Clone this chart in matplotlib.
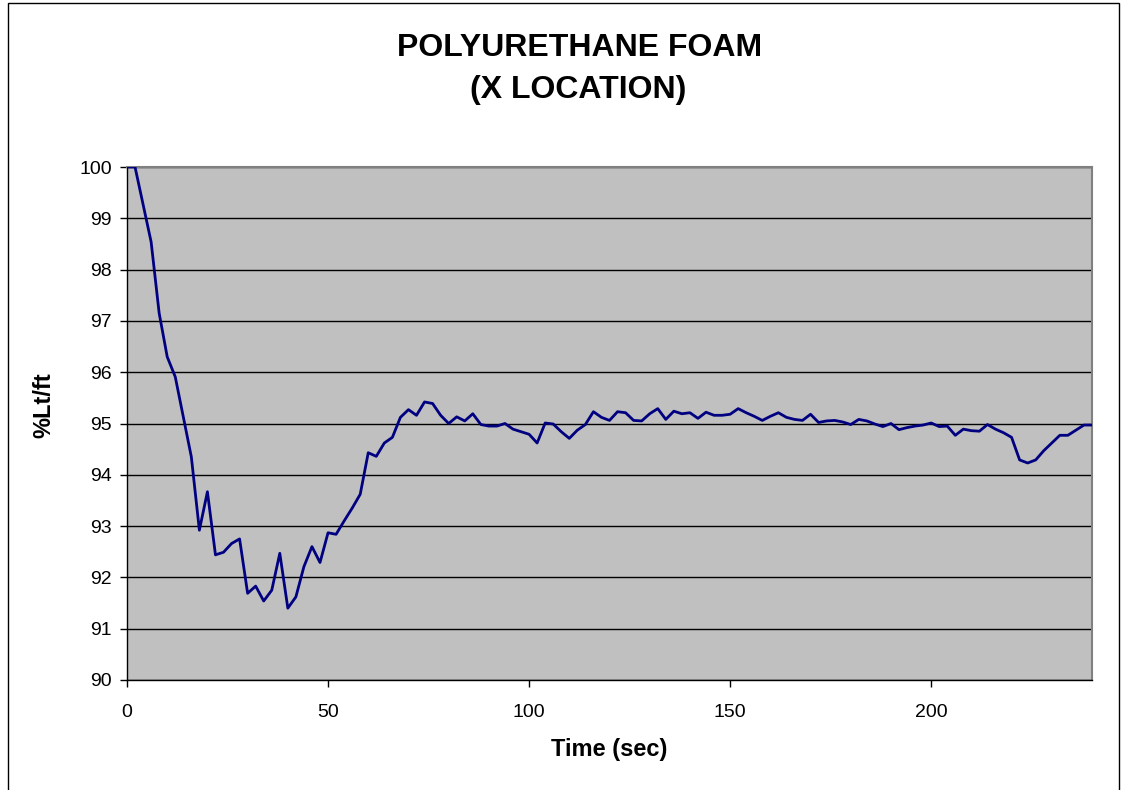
import matplotlib.pyplot as plt
import numpy as np
from matplotlib.patches import Rectangle

plt.rcParams['font.family'] = ['Liberation Sans', 'DejaVu Sans']

# time in seconds, one reading every 2 s
time_sec = np.arange(0, 242, 2)
lt_pct = [
    100.00, 100.00, 99.27, 98.54, 97.15, 96.30, 95.91, 95.13, 94.35, 92.92,
    93.67, 92.44, 92.49, 92.66, 92.75, 91.69, 91.83, 91.54, 91.75, 92.47,
    91.40, 91.62, 92.21, 92.60, 92.29, 92.87, 92.84, 93.10, 93.35, 93.62,
    94.43, 94.36, 94.62, 94.73, 95.12, 95.27, 95.16, 95.42, 95.39, 95.16,
    95.00, 95.13, 95.05, 95.19, 94.98, 94.95, 94.95, 95.00, 94.89, 94.84,
    94.79, 94.62, 95.01, 94.99, 94.84, 94.71, 94.87, 94.98, 95.23, 95.12,
    95.06, 95.23, 95.21, 95.06, 95.05, 95.19, 95.29, 95.08, 95.24, 95.19,
    95.21, 95.10, 95.22, 95.16, 95.16, 95.18, 95.29, 95.21, 95.14, 95.06,
    95.14, 95.21, 95.12, 95.08, 95.06, 95.18, 95.02, 95.05, 95.06, 95.03,
    94.98, 95.08, 95.05, 94.99, 94.94, 95.00, 94.88, 94.92, 94.95, 94.97,
    95.01, 94.94, 94.95, 94.77, 94.89, 94.86, 94.85, 94.98, 94.89, 94.82,
    94.73, 94.29, 94.23, 94.29, 94.47, 94.62, 94.77, 94.77, 94.87, 94.97,
    94.97,
]
x_ticks = [0, 50, 100, 150, 200]
y_ticks = list(range(90, 101))

W, H = 1125, 790
fig = plt.figure(figsize=(W / 100, H / 100), dpi=100)
ax = fig.add_axes([127 / W, 1 - 680 / H, (1092 - 127) / W, (680 - 167) / H])

# chart-area border
fig.patches.append(Rectangle((8 / W, -0.01), (1119 - 8) / W, 1 - 3 / H + 0.01,
                             transform=fig.transFigure, fill=False,
                             edgecolor='black', linewidth=1))

ax.set_facecolor('#C0C0C0')
ax.plot(time_sec, lt_pct, color='#000080', linewidth=2, zorder=3)

ax.set_xlim(0, 240)
ax.set_ylim(90, 100)
ax.set_xticks(x_ticks)
ax.set_yticks(y_ticks)
ax.yaxis.grid(True, color='black', linewidth=1)
ax.set_axisbelow(True)

for side in ['top', 'right']:
    ax.spines[side].set_color('#808080')
    ax.spines[side].set_linewidth(1.5)
for side in ['left', 'bottom']:
    ax.spines[side].set_color('black')
    ax.spines[side].set_linewidth(1)

ax.tick_params(axis='both', direction='out', length=5, width=1, labelsize=14,
               colors='black')
ax.tick_params(axis='x', pad=12)
ax.tick_params(axis='y', pad=6)

ax.set_xlabel('Time (sec)', fontsize=17, fontweight='bold')
ax.set_ylabel('%Lt/ft', fontsize=17, fontweight='bold')
ax.xaxis.set_label_coords(0.5, -(738 - 680) / 513)
ax.yaxis.set_label_coords((55 - 127) / 965, 1 - (405 - 167) / 513)

fig.text(580 / W, 1 - 48 / H, 'POLYURETHANE FOAM', ha='center', va='center',
         fontsize=23, fontweight='bold')
fig.text(578 / W, 1 - 90 / H, '(X LOCATION)', ha='center', va='center',
         fontsize=23, fontweight='bold')

fig.savefig('out.png', dpi=100)
